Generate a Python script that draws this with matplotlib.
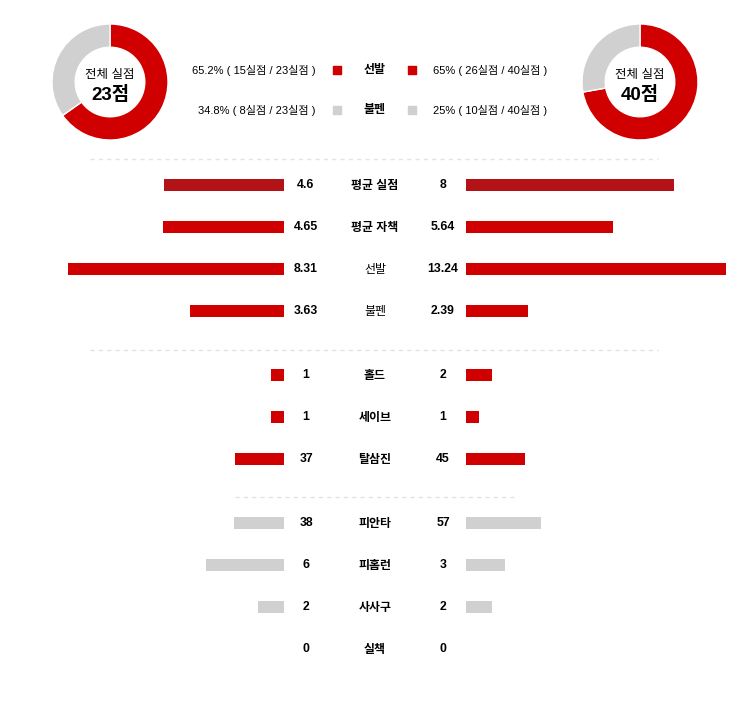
import matplotlib.pyplot as plt

plt.rcParams['font.family'] = ['Liberation Sans', 'Noto Sans CJK KR', 'DejaVu Sans']

RED = '#d10000'
DARK_RED = '#b31217'
GRAY = '#d0d0d0'

# donut data
left_total = 23
right_total = 40
left_pie = [15, 8]
right_pie = [26, 10]
legend_names = ['선발', '불펜']
left_legend = ['65.2% ( 15실점 / 23실점 )', '34.8% ( 8실점 / 23실점 )']
right_legend = ['65% ( 26실점 / 40실점 )', '25% ( 10실점 / 40실점 )']

# comparison rows
labels = ['평균 실점', '평균 자책', '선발', '불펜',
          '홀드', '세이브', '탈삼진',
          '피안타', '피홈런', '사사구', '실책']
left_vals = [4.6, 4.65, 8.31, 3.63, 1, 1, 37, 38, 6, 2, 0]
right_vals = [8, 5.64, 13.24, 2.39, 2, 1, 45, 57, 3, 2, 0]
left_txt = ['4.6', '4.65', '8.31', '3.63', '1', '1', '37', '38', '6', '2', '0']
right_txt = ['8', '5.64', '13.24', '2.39', '2', '1', '45', '57', '3', '2', '0']

# layout (pixels)
row_y = [185, 227, 269, 311, 375, 417, 459, 523, 565, 607, 649]
px_per_unit = [26, 26, 26, 26, 13, 13, 1.32, 1.32, 13, 13, 13]
bar_colors = [DARK_RED] + [RED] * 6 + [GRAY] * 4
label_bold = [True, True, False, False] + [True] * 7
MAX_W = 260

fig = plt.figure(figsize=(7.5, 7.04), dpi=100)
ax = fig.add_axes([0, 0, 1, 1])
ax.set_xlim(0, 750)
ax.set_ylim(704, 0)
ax.axis('off')

for i, lab in enumerate(labels):
    y = row_y[i]
    lw = min(left_vals[i] * px_per_unit[i], MAX_W)
    rw = min(right_vals[i] * px_per_unit[i], MAX_W)
    if lw > 0:
        ax.barh(y, -lw, left=284, height=12, color=bar_colors[i])
    if rw > 0:
        ax.barh(y, rw, left=466, height=12, color=bar_colors[i])
    ty = y + 0.5
    ax.text(306, ty, left_txt[i], ha='center', va='center', fontsize=8.8, fontweight='bold')
    ax.text(443, ty, right_txt[i], ha='center', va='center', fontsize=8.8, fontweight='bold')
    ax.text(375, ty, lab, ha='center', va='center', fontsize=8.6,
            fontweight='bold' if label_bold[i] else 'normal')

# dashed separators
for y, x0, x1 in [(159, 90, 658), (350, 90, 658), (497, 235, 514)]:
    ax.plot([x0, x1], [y, y], color='#e3e3e3', lw=1, ls=(0, (3, 3)))

# legend rows
for k, name in enumerate(legend_names):
    y = [70, 110][k]
    c = [RED, GRAY][k]
    ax.text(316, y + 0.5, left_legend[k], ha='right', va='center', fontsize=8.0)
    ax.scatter([337, 412], [y, y], marker='s', s=33, color=c)
    ax.text(375, y + 0.5, name, ha='center', va='center', fontsize=8.6, fontweight='bold')
    ax.text(433, y + 0.5, right_legend[k], ha='left', va='center', fontsize=8.0)


def donut(cx, cy, vals, total):
    r = 58
    pax = fig.add_axes([(cx - r) / 750, (704 - cy - r) / 704, 2 * r / 750, 2 * r / 704])
    pax.pie(vals, colors=[RED, GRAY], startangle=90, counterclock=False,
            wedgeprops=dict(width=0.4, edgecolor='white', linewidth=1))
    pax.set_xlim(-1, 1)
    pax.set_ylim(-1, 1)
    pax.text(0, 0.12, '전체 실점', ha='center', va='center', fontsize=9)
    pax.text(0, -0.22, f'{total}점', ha='center', va='center', fontsize=13.5, fontweight='bold')


donut(110, 82, left_pie, left_total)
donut(640, 82, right_pie, right_total)

fig.savefig('out.png', dpi=100, facecolor='white')
